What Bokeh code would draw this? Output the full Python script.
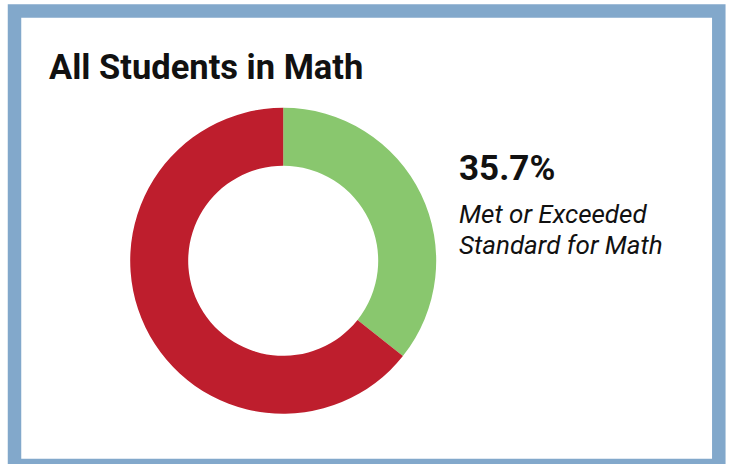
import math
from bokeh.plotting import figure
from bokeh.models import Range1d, ColumnDataSource
from bokeh.core.properties import value
from bokeh.embed import file_html
from bokeh.resources import INLINE

# ---- data ----
title_text = "All Students in Math"
categories = ["Met or Exceeded Standard for Math", "Did Not Meet Standard"]
values = [35.7, 64.3]
colors = ["#89C76E", "#BE1E2D"]
callout_lines = ["Met or Exceeded", "Standard for Math"]

# ---- angles from data (start at top, clockwise) ----
total = sum(values)
starts, ends = [], []
a = math.pi / 2
for v in values:
    starts.append(a)
    a = a - v / total * 2 * math.pi
    ends.append(a)

W, H = 734, 464
cx, cy = 282.7, H - 260.3
src = ColumnDataSource(dict(cat=categories, val=values, color=colors,
                            start=starts, end=ends,
                            x=[cx] * len(values), y=[cy] * len(values)))

p = figure(width=W, height=H, output_backend="svg", toolbar_location=None,
           x_range=Range1d(0, W), y_range=Range1d(0, H),
           x_axis_location=None, y_axis_location=None,
           min_border_left=0, min_border_right=0,
           min_border_top=0, min_border_bottom=0)
p.grid.visible = False
p.outline_line_color = None
p.background_fill_color = "white"
p.border_fill_color = "white"

# frame border (decoration)
p.quad(left=[14], right=[718.3], top=[H - 10.5], bottom=[H - 465],
       fill_color=None, line_color="#82A8CB", line_width=13.5,
       line_join="miter")

p.annular_wedge(x="x", y="y", inner_radius=95, outer_radius=153,
                start_angle="start", end_angle="end", direction="clock",
                fill_color="color", line_color=None, source=src)

p.text(x=[48.5], y=[H - 66.7], text=[title_text],
       text_font=value("Roboto"), text_font_style="bold",
       text_font_size="34.5px", text_color="#111111", text_baseline="alphabetic")

p.text(x=[458.5], y=[H - 168.3], text=["%.1f%%" % values[0]],
       text_font=value("Roboto"), text_font_style="bold",
       text_font_size="35px", text_color="#111111", text_baseline="alphabetic")

p.text(x=[458.5, 458.5], y=[H - 213.3, H - 244.8], text=callout_lines,
       text_font=value("Roboto"), text_font_style="italic",
       text_font_size="26px", text_color="#111111", text_baseline="alphabetic")

open("out.html", "w").write(file_html(p, INLINE))
